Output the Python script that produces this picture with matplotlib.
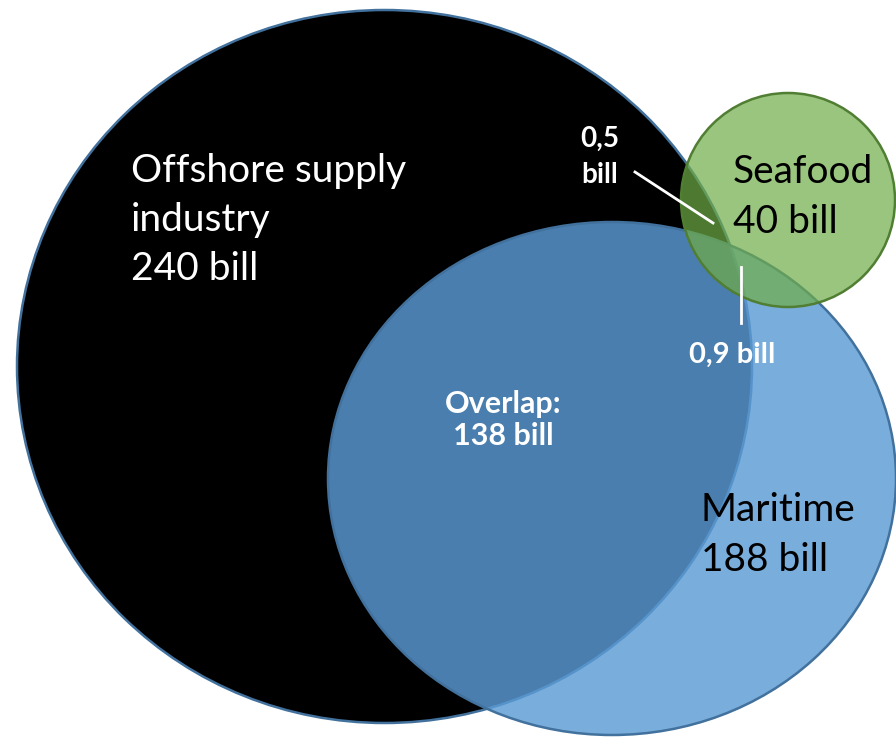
import matplotlib.pyplot as plt
from matplotlib.patches import Ellipse

# values (bill)
names = ["Offshore supply\nindustry", "Maritime", "Seafood"]
totals = [240, 188, 40]
overlap_main = 138
overlap_off_sea = "0,5"
overlap_mar_sea = "0,9"

# layout in pixels (x, y from top-left), width, height
centers = [(384.5, 366.5), (612, 478.5), (788, 200)]
sizes = [(735, 713), (568, 513), (214, 214)]
fills = ["#000000", "#5B9BD5", "#70AD47"]
alphas = [1.0, 0.82, 0.70]
edges = ["#41719C", "#41719C", "#507E32"]

plt.rcParams['font.family'] = ['Lato', 'DejaVu Sans']

fig = plt.figure(figsize=(8.96, 7.37), dpi=100)
ax = fig.add_axes([0, 0, 1, 1])
ax.set_xlim(0, 896)
ax.set_ylim(737, 0)
ax.axis('off')

for i in range(3):
    e = Ellipse(centers[i], sizes[i][0], sizes[i][1], facecolor=fills[i],
                alpha=alphas[i], edgecolor='none', zorder=i + 1)
    ax.add_patch(e)
    e2 = Ellipse(centers[i], sizes[i][0], sizes[i][1], facecolor='none',
                 edgecolor=edges[i], lw=1.8, zorder=i + 1.5)
    ax.add_patch(e2)

big = 28
ax.text(131, 220, "%s\n%d bill" % (names[0], totals[0]), color='white', fontsize=big,
        va='center', ha='left', linespacing=1.45, zorder=10)
ax.text(733, 197, "%s\n%d bill" % (names[2], totals[2]), color='black', fontsize=big,
        va='center', ha='left', linespacing=1.45, zorder=10)
ax.text(701, 535, "%s\n%d bill" % (names[1], totals[1]), color='black', fontsize=big,
        va='center', ha='left', linespacing=1.45, zorder=10)

ax.text(503, 420, "Overlap:\n%d bill" % overlap_main, color='white', fontsize=22,
        fontweight='bold', va='center', ha='center', linespacing=1.2, zorder=10)
ax.text(600, 157, "%s\nbill" % overlap_off_sea, color='white', fontsize=20,
        fontweight='bold', va='center', ha='center', linespacing=1.5, zorder=10)
ax.text(732, 355, "%s bill" % overlap_mar_sea, color='white', fontsize=21,
        fontweight='bold', va='center', ha='center', zorder=10)

ax.plot([635, 713], [172, 223], color='white', lw=2, zorder=10)
ax.plot([741, 741], [267, 323], color='white', lw=2, zorder=10)

fig.savefig("out.png", dpi=100)
